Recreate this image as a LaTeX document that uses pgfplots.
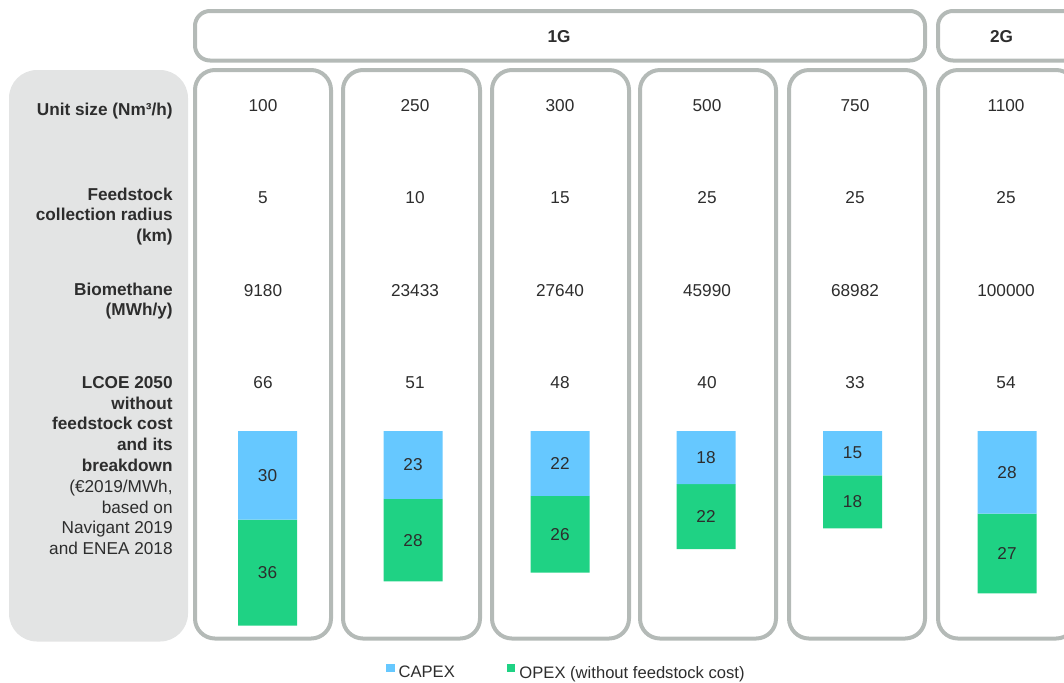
\documentclass[border=0pt]{standalone}
\usepackage{fontspec}
\setmainfont{Liberation Sans}
\usepackage{pgfplots}
\pgfplotsset{compat=1.18}
\definecolor{capex}{RGB}{102,200,255}
\definecolor{opex}{RGB}{31,210,132}
\definecolor{boxgray}{RGB}{180,186,183}
\definecolor{panel}{RGB}{227,228,228}
\definecolor{txt}{RGB}{45,45,45}
\newcommand\f{\fontsize{8.6}{10.4}\selectfont}
\begin{document}
\begin{tikzpicture}
\pgfplotsset{base/.style={at={(0,0)}, anchor=south west, width=532pt, height=341pt,
  scale only axis, hide axis, xmin=0, xmax=1064}}
% ---------------- decoration layer (pixel coordinates) ----------------
\begin{axis}[base, ymin=0, ymax=682, y dir=reverse, clip=false]
\coordinate (A) at (axis cs:0,682);
\coordinate (B) at (axis cs:1064,0);
\fill[panel, rounded corners=14pt] (axis cs:9,70) rectangle (axis cs:188,641.5);
\draw[boxgray, line width=2pt, rounded corners=7.5pt] (axis cs:195,11) rectangle (axis cs:925,60.5);
\draw[boxgray, line width=2pt, rounded corners=7.5pt] (axis cs:938,11) rectangle (axis cs:1100,60.5);
\draw[boxgray, line width=2pt, rounded corners=10pt] (axis cs:195,70) rectangle (axis cs:331,638.5);
\draw[boxgray, line width=2pt, rounded corners=10pt] (axis cs:343,70) rectangle (axis cs:480,638.5);
\draw[boxgray, line width=2pt, rounded corners=10pt] (axis cs:492,70) rectangle (axis cs:629,638.5);
\draw[boxgray, line width=2pt, rounded corners=10pt] (axis cs:640,70) rectangle (axis cs:776,638.5);
\draw[boxgray, line width=2pt, rounded corners=10pt] (axis cs:789,70) rectangle (axis cs:925,638.5);
\draw[boxgray, line width=2pt, rounded corners=10pt] (axis cs:938,70) rectangle (axis cs:1076,638.5);
% headers
\node[font=\f\bfseries, text=txt, inner sep=0pt] at (axis cs:559,36.5) {1G};
\node[font=\f\bfseries, text=txt, inner sep=0pt] at (axis cs:1001.5,36.5) {2G};
% left labels
\begin{scope}[every node/.style={font=\f\bfseries, text=txt, inner sep=0pt, anchor=base east}]
\node at (axis cs:173,115) {Unit size (Nm³/h)};
\node at (axis cs:173,200) {Feedstock};
\node at (axis cs:173,220.8) {collection radius};
\node at (axis cs:173,241.6) {(km)};
\node at (axis cs:173,295) {Biomethane};
\node at (axis cs:173,315.6) {(MWh/y)};
\node at (axis cs:173,388.3) {LCOE 2050};
\node at (axis cs:173,409.1) {without};
\node at (axis cs:173,429.9) {feedstock cost};
\node at (axis cs:173,450.7) {and its};
\node at (axis cs:173,471.5) {breakdown};
\end{scope}
\begin{scope}[every node/.style={font=\f, text=txt, inner sep=0pt, anchor=base east}]
\node at (axis cs:173,492.3) {(€2019/MWh,};
\node at (axis cs:173,513.1) {based on};
\node at (axis cs:173,533.9) {Navigant 2019};
\node at (axis cs:173,554.7) {and ENEA 2018};
\end{scope}
% row values
\begin{scope}[every node/.style={font=\f, text=txt, inner sep=0pt, anchor=center}]
\node at (axis cs:263,106) {100};   \node at (axis cs:415,106) {250};
\node at (axis cs:560,106) {300};   \node at (axis cs:707,106) {500};
\node at (axis cs:855,106) {750};   \node at (axis cs:1006,106) {1100};
\node at (axis cs:263,198) {5};     \node at (axis cs:415,198) {10};
\node at (axis cs:560,198) {15};    \node at (axis cs:707,198) {25};
\node at (axis cs:855,198) {25};    \node at (axis cs:1006,198) {25};
\node at (axis cs:263,291) {9180};  \node at (axis cs:415,291) {23433};
\node at (axis cs:560,291) {27640}; \node at (axis cs:707,291) {45990};
\node at (axis cs:855,291) {68982}; \node at (axis cs:1006,291) {100000};
\node at (axis cs:263,383) {66};    \node at (axis cs:415,383) {51};
\node at (axis cs:560,383) {48};    \node at (axis cs:707,383) {40};
\node at (axis cs:855,383) {33};    \node at (axis cs:1006,383) {54};
\end{scope}
\end{axis}
% ---------------- stacked bars (LCOE units, hanging from the baseline) ----------------
\begin{axis}[base, ymin=-146.1, ymax=85.08, y dir=reverse, ybar stacked, bar width=59,
  legend columns=2,
  legend style={at={(axis cs:386,84.8)}, anchor=south west, draw=none, fill=none,
    inner sep=0pt, outer sep=0pt, font=\fontsize{8.3}{10}\selectfont, text=txt,
    nodes={inner sep=0pt},
    /tikz/every odd column/.append style={column sep=2pt},
    /tikz/every even column/.append style={column sep=26pt}},
  sq/.style={legend image code/.code={\fill[##1] (0pt,0.6pt) rectangle (4.3pt,4.9pt);}}]
\addplot[fill=capex, draw=none, sq] table {
x y
267.5 30
413 23
560 22
706 18
852.5 15
1007 28
};
\addlegendentry{CAPEX}
\addplot[fill=opex, draw=none, sq] table {
x y
267.5 36
413 28
560 26
706 22
852.5 18
1007 27
};
\addlegendentry{OPEX (without feedstock cost)}
\end{axis}
% ---------------- value labels at segment midpoints ----------------
\begin{axis}[base, ymin=-146.1, ymax=85.08, y dir=reverse]
\addplot[draw=none, mark=none, nodes near coords, point meta=explicit symbolic,
  nodes near coords style={anchor=center, inner sep=0pt, font=\f, text=txt}] table[meta=lab] {
x y lab
267.5 15 30
267.5 48 36
413 11.5 23
413 37 28
560 11 22
560 35 26
706 9 18
706 29 22
852.5 7.5 15
852.5 24 18
1007 14 28
1007 41.5 27
};
\end{axis}
\pgfresetboundingbox
\useasboundingbox (A) rectangle (B);
\end{tikzpicture}
\end{document}
